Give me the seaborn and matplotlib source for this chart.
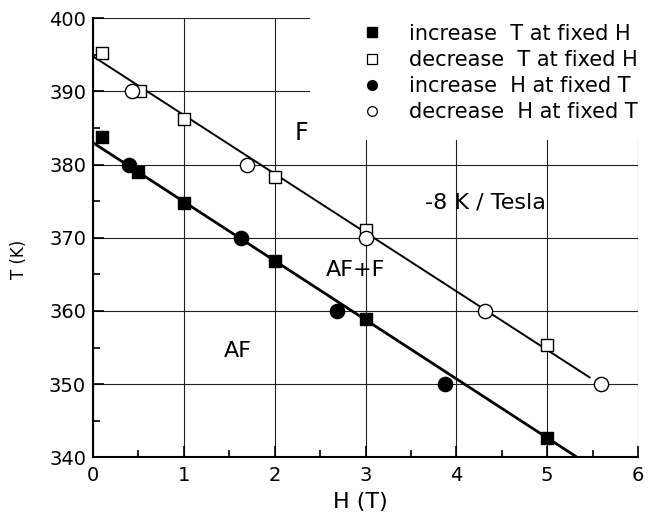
import matplotlib
matplotlib.use("Agg")
import matplotlib.pyplot as plt
import seaborn as sns
import pandas as pd
from matplotlib.patches import Rectangle
from matplotlib.ticker import MultipleLocator
from matplotlib.lines import Line2D

# ---- data ----
inc_T_H = [0.10, 0.50, 1.00, 2.00, 3.00, 5.00]
inc_T_T = [383.8, 379.0, 374.8, 366.8, 358.9, 342.7]
dec_T_H = [0.10, 0.52, 1.00, 2.00, 3.00, 5.00]
dec_T_T = [395.3, 390.1, 386.2, 378.3, 371.1, 355.3]
inc_H_H = [0.40, 1.63, 2.69, 3.87]
inc_H_T = [380.0, 370.0, 360.0, 350.0]
dec_H_H = [0.43, 1.70, 3.00, 4.32, 5.59]
dec_H_T = [390.0, 380.0, 370.0, 360.0, 350.0]
fit_low_H = [0.0, 5.33]
fit_low_T = [383.0, 340.0]
fit_up_H = [0.0, 5.47]
fit_up_T = [394.8, 350.9]
labels = ["increase  T at fixed H", "decrease  T at fixed H",
          "increase  H at fixed T", "decrease  H at fixed T"]

sns.set_theme(style="white")
plt.rcParams["font.family"] = ["DejaVu Sans"]
plt.rcParams["text.color"] = "black"
plt.rcParams["axes.labelcolor"] = "black"

fig = plt.figure(figsize=(6.65, 5.21), dpi=100)
ax = fig.add_axes([93 / 665, 1 - 457.3 / 521, 545 / 665, 439 / 521])

# grid
ax.set_axisbelow(True)
ax.grid(True, which="major", color="#222222", linewidth=0.8)

# white box hiding grid behind legend
ax.add_patch(Rectangle((0.398, 0.723), 0.61, 0.3, transform=ax.transAxes,
                       facecolor="white", edgecolor="none", zorder=1.5, clip_on=False))

# fit lines
sns.lineplot(x=fit_low_H, y=fit_low_T, ax=ax, color="black", linewidth=2.0, zorder=3)
sns.lineplot(x=fit_up_H, y=fit_up_T, ax=ax, color="black", linewidth=1.4, zorder=3)

ms = 80
sns.scatterplot(x=inc_T_H, y=inc_T_T, ax=ax, marker="s", s=ms, color="black",
                edgecolor="black", linewidth=1, zorder=4)
sns.scatterplot(x=dec_T_H, y=dec_T_T, ax=ax, marker="s", s=ms, facecolor="white",
                edgecolor="black", linewidth=1, zorder=4)
sns.scatterplot(x=inc_H_H, y=inc_H_T, ax=ax, marker="o", s=ms + 25, color="black",
                edgecolor="black", linewidth=1, zorder=4)
sns.scatterplot(x=dec_H_H, y=dec_H_T, ax=ax, marker="o", s=ms + 25, facecolor="white",
                edgecolor="black", linewidth=1, zorder=4)

ax.set_xlim(0, 6)
ax.set_ylim(340, 400)
ax.xaxis.set_major_locator(MultipleLocator(1))
ax.xaxis.set_minor_locator(MultipleLocator(0.5))
ax.yaxis.set_major_locator(MultipleLocator(10))
ax.yaxis.set_minor_locator(MultipleLocator(5))
ax.tick_params(which="both", direction="in", colors="black", labelsize=14,
               left=True, bottom=True, width=1.2)
ax.tick_params(which="major", length=8)
ax.tick_params(which="minor", length=5)
ax.tick_params(axis="x", pad=6)
ax.tick_params(axis="y", pad=5)

for s in ["top", "right"]:
    ax.spines[s].set_visible(False)
for s in ["left", "bottom"]:
    ax.spines[s].set_color("black")
    ax.spines[s].set_linewidth(1.5)

ax.set_xlabel("H (T)", fontsize=16, color="black")
ax.set_ylabel("T (K)", fontsize=12, color="black")
ax.xaxis.set_label_coords(0.49, -0.08)
ax.yaxis.set_label_coords(-0.12, 0.45)

# annotations
ax.text(2.29, 384.3, "F", fontsize=17, ha="center", va="center")
ax.text(4.32, 374.8, "-8 K / Tesla", fontsize=16, ha="center", va="center", zorder=5)
ax.text(2.89, 365.6, "AF+F", fontsize=16, ha="center", va="center")
ax.text(1.59, 354.5, "AF", fontsize=16, ha="center", va="center")

# legend
handles = [
    Line2D([], [], linestyle="none", marker="s", markersize=6.5, markerfacecolor="black", markeredgecolor="black"),
    Line2D([], [], linestyle="none", marker="s", markersize=6.5, markerfacecolor="white", markeredgecolor="black", markeredgewidth=0.9),
    Line2D([], [], linestyle="none", marker="o", markersize=7, markerfacecolor="black", markeredgecolor="black"),
    Line2D([], [], linestyle="none", marker="o", markersize=7, markerfacecolor="white", markeredgecolor="black", markeredgewidth=0.9),
]
leg = ax.legend(handles, labels, loc="upper left", bbox_to_anchor=(0.466, 1.021),
                frameon=False, fontsize=15, handlelength=1.0, handletextpad=1.3,
                labelspacing=0.3, borderpad=0.2)
leg.set_zorder(6)

fig.savefig("out.png", dpi=100)
